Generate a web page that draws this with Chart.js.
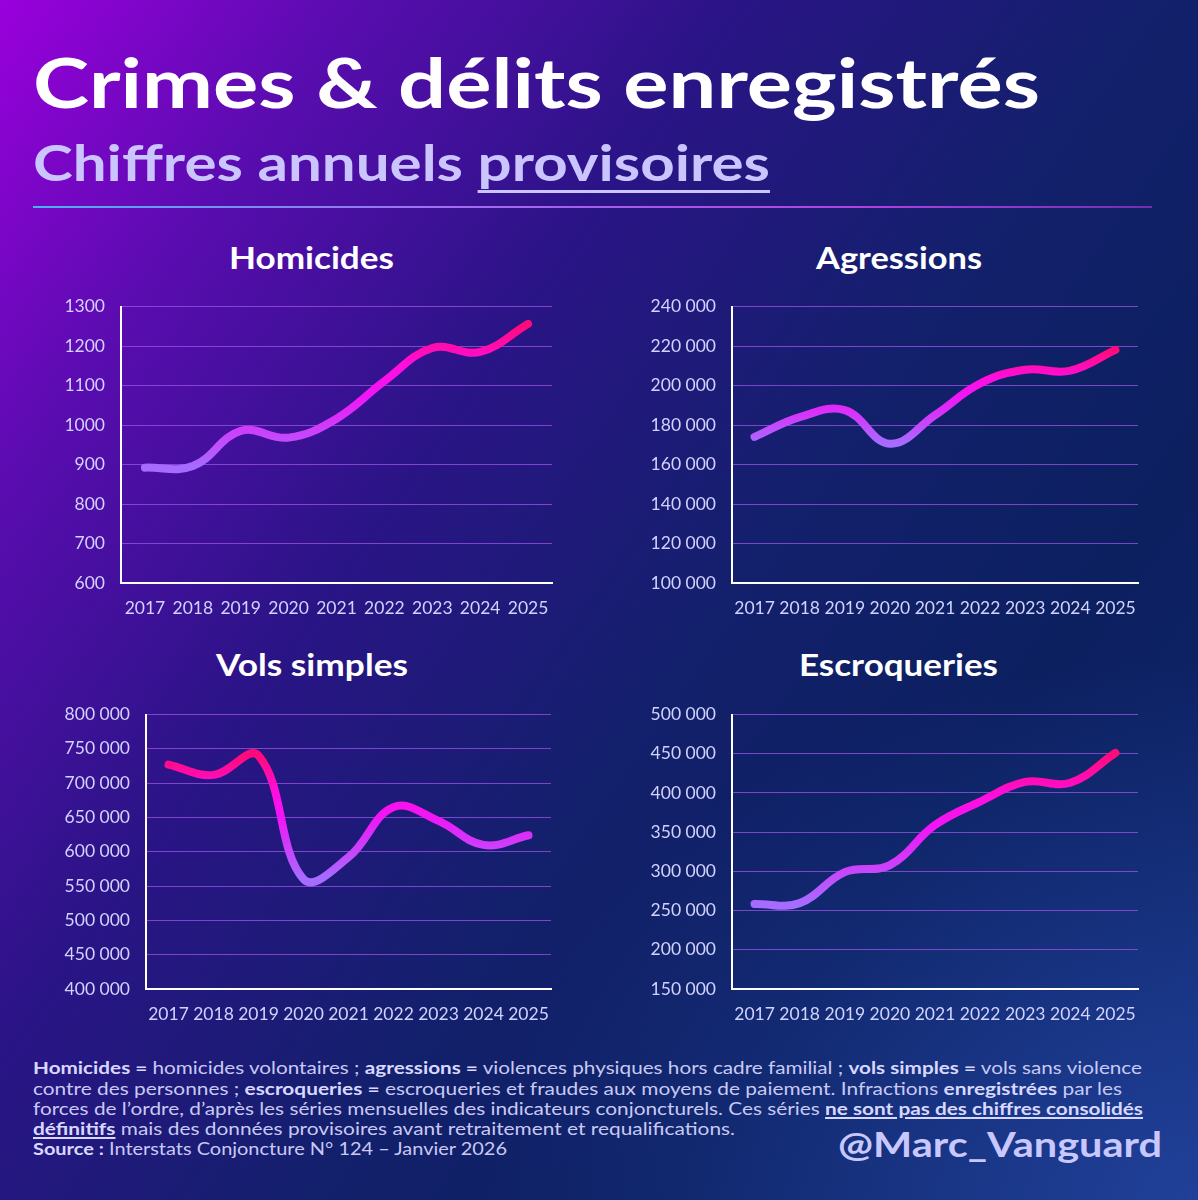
<!DOCTYPE html>
<html lang="fr">
<head>
<meta charset="utf-8">
<title>Crimes & délits enregistrés</title>
<script src="https://cdn.jsdelivr.net/npm/chart.js@4/dist/chart.umd.min.js"></script>
<style>
  html, body { margin: 0; padding: 0; }
  body { width: 1198px; height: 1200px; overflow: hidden; font-family: "Lato", "DejaVu Sans", sans-serif; }
  #page {
    position: relative; width: 1198px; height: 1200px;
    background:
      radial-gradient(ellipse 60% 45% at 100% 100%, rgba(45, 85, 190, 0.55), rgba(45, 85, 190, 0) 100%),
      linear-gradient(125deg, #9a00dc 0%, #5a0cb0 17%, #2a1486 36%, #13206c 56%, #0c2060 74%, #10276c 100%);
  }
  .abs { position: absolute; white-space: nowrap; transform-origin: left top; }
  #title { left: 33px; top: 48px; font-size: 68px; font-weight: 700; color: #ffffff; line-height: 1; }
  #subtitle { left: 33px; top: 137px; font-size: 50px; font-weight: 700; color: #cac4ff; line-height: 1; }
  #subtitle u { text-decoration-thickness: 3px; text-underline-offset: 9px; }
  #rule { position: absolute; left: 33px; top: 206px; width: 1119px; height: 2px;
    background: linear-gradient(90deg, #4ab0f0 0%, #a070f0 35%, #b040e0 75%, #7030b0 100%); }
  .ctitle { font-size: 30px; font-weight: 700; color: #ffffff; line-height: 1; }
  .box { position: absolute; width: 520px; }
  .note { left: 33px; font-size: 17px; color: #c9c9f4; line-height: 1; }
  .note b { color: #d8d8ff; }
  .note u { text-decoration-thickness: 2px; text-underline-offset: 2px; }
  #handle { left: 838px; top: 1127px; font-size: 34px; font-weight: 700; color: #c8c8ff; line-height: 1; }
</style>
</head>
<body>
<div id="page">
  <div id="title" class="abs" data-w="1007">Crimes &amp; délits enregistrés</div>
  <div id="subtitle" class="abs" data-w="737">Chiffres annuels <u>provisoires</u></div>
  <div id="rule"></div>

  <div class="abs ctitle" style="left:229px; top:242px;" data-w="165">Homicides</div>
  <div class="abs ctitle" style="left:816px; top:242px;" data-w="166">Agressions</div>
  <div class="abs ctitle" style="left:216px; top:649px;" data-w="192">Vols simples</div>
  <div class="abs ctitle" style="left:799px; top:649px;" data-w="199">Escroqueries</div>

  <div class="box" style="left:40px; top:280px; height:346px;"><canvas id="c1"></canvas></div>
  <div class="box" style="left:640px; top:280px; height:346px;"><canvas id="c2"></canvas></div>
  <div class="box" style="left:40px; top:688px; height:346px;"><canvas id="c3"></canvas></div>
  <div class="box" style="left:640px; top:688px; height:346px;"><canvas id="c4"></canvas></div>

  <div class="abs note" style="top:1059px;" data-w="1109"><b>Homicides =</b> homicides volontaires ; <b>agressions =</b> violences physiques hors cadre familial ; <b>vols simples =</b> vols sans violence</div>
  <div class="abs note" style="top:1080px;" data-w="1089">contre des personnes ; <b>escroqueries =</b> escroqueries et fraudes aux moyens de paiement. Infractions <b>enregistrées</b> par les</div>
  <div class="abs note" style="top:1100px;" data-w="1110">forces de l’ordre, d’après les séries mensuelles des indicateurs conjoncturels. Ces séries <b><u>ne sont pas des chiffres consolidés</u></b></div>
  <div class="abs note" style="top:1120px;" data-w="702"><b><u>définitifs</u></b> mais des données provisoires avant retraitement et requalifications.</div>
  <div class="abs note" style="top:1140px;" data-w="474"><b>Source :</b> Interstats Conjoncture N° 124 – Janvier 2026</div>

  <div id="handle" class="abs" data-w="324">@Marc_Vanguard</div>
</div>

<script>
// années
const years = ["2017", "2018", "2019", "2020", "2021", "2022", "2023", "2024", "2025"];

// séries
const homicides = [892, 896, 985, 968, 1016, 1111, 1195, 1185, 1256];
const agressions = [174000, 184000, 187500, 170500, 185000, 201000, 208000, 207500, 218000];
const volsSimples = [727000, 712000, 740000, 560000, 592000, 665000, 645000, 610000, 624000];
const escroqueries = [258500, 259500, 299000, 308000, 359000, 389000, 414000, 413000, 451000];

// axes : [min, max, pas]
const homicidesAxis = [600, 1300, 100];
const agressionsAxis = [100000, 240000, 20000];
const volsAxis = [400000, 800000, 50000];
const escroqueriesAxis = [150000, 500000, 50000];

const tickColor = "#d2d2ff";
const gridColor = "rgba(150, 80, 225, 0.8)";

function lineGradient(context, values) {
  const chart = context.chart;
  const area = chart.chartArea;
  if (!area) return "#e020f0";
  const y = chart.scales.y;
  const lo = y.getPixelForValue(Math.min(...values));
  const hi = y.getPixelForValue(Math.max(...values));
  const g = chart.ctx.createLinearGradient(0, lo, 0, hi);
  g.addColorStop(0, "#a66cff");
  g.addColorStop(0.5, "#f016f6");
  g.addColorStop(0.7, "#ff0ee0");
  g.addColorStop(1, "#ff0a78");
  return g;
}

function makeChart(id, values, axis, yWidth, padRight, xHeight, plainNumbers) {
  const ctx = document.getElementById(id).getContext("2d");
  return new Chart(ctx, {
    type: "line",
    data: {
      labels: years,
      datasets: [
        {
          data: values,
          borderColor: (c) => lineGradient(c, values),
          borderWidth: 8,
          borderCapStyle: "round",
          borderJoinStyle: "round",
          tension: 0.4,
          pointRadius: 0,
          fill: false,
        },
      ],
    },
    options: {
      responsive: true,
      maintainAspectRatio: false,
      animation: false,
      layout: { padding: { top: 10, right: padRight, left: 0, bottom: 0 } },
      plugins: { legend: { display: false }, tooltip: { enabled: false } },
      scales: {
        x: {
          offset: true,
          grid: { display: false },
          border: { display: true, color: "#ffffff", width: 2 },
          ticks: {
            color: tickColor,
            font: { family: "Lato", size: 17.5 },
            padding: 7,
            maxRotation: 0,
            autoSkip: false,
          },
          afterFit: (scale) => { scale.height = xHeight; },
        },
        y: {
          min: axis[0],
          max: axis[1],
          grid: { color: gridColor, lineWidth: 1, drawTicks: false },
          border: { display: true, color: "#ffffff", width: 2 },
          ticks: {
            stepSize: axis[2],
            color: tickColor,
            font: { family: "Lato", size: 17.5 },
            padding: 16,
            callback: (v) => plainNumbers ? String(v) : v.toLocaleString("fr-FR").replace(/\s/g, " "),
          },
          afterFit: (scale) => { scale.width = yWidth; },
        },
      },
    },
  });
}

function fitTexts() {
  document.querySelectorAll("[data-w]").forEach((el) => {
    el.style.transform = "none";
    const w = el.getBoundingClientRect().width;
    const target = parseFloat(el.dataset.w);
    el.style.transform = "scaleX(" + (target / w) + ")";
  });
}

document.fonts.ready.then(() => {
  fitTexts();
  makeChart("c1", homicides, homicidesAxis, 81, 8, 43, true);
  makeChart("c2", agressions, agressionsAxis, 92, 22, 43, false);
  makeChart("c3", volsSimples, volsAxis, 106, 9, 45, false);
  makeChart("c4", escroqueries, escroqueriesAxis, 92, 22, 45, false);
});
</script>
</body>
</html>
